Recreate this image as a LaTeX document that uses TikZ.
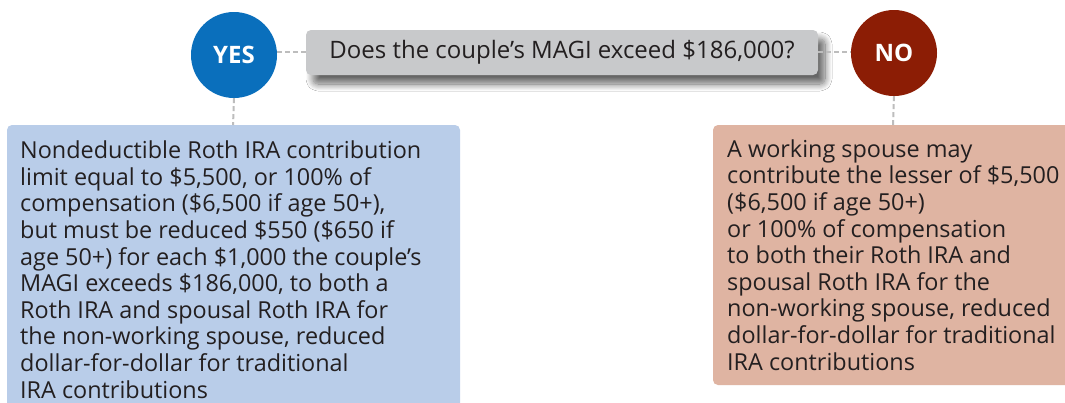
\documentclass[tikz,border=0pt]{standalone}
\usepackage{fontspec}
\setmainfont{Open Sans}
\usetikzlibrary{shadows.blur}
\definecolor{yesblue}{HTML}{0A6FBC}
\definecolor{nored}{HTML}{8C1D05}
\definecolor{boxblue}{HTML}{B9CDE9}
\definecolor{boxpink}{HTML}{DFB4A2}
\definecolor{qgray}{HTML}{C8C9CB}
\definecolor{dashgray}{HTML}{BDBDBD}
\definecolor{txt}{HTML}{231F20}
\tikzset{
  answer/.style={circle, minimum size=86pt, inner sep=0pt, text=white, font=\fontsize{24}{26}\selectfont\bfseries},
  conn/.style={draw=dashgray, line width=2pt, dash pattern=on 5pt off 3pt},
  body/.style={anchor=base west, align=left, inner sep=0pt, text=txt, font=\fontsize{23.4}{26.6}\selectfont},
}
\begin{document}
\begin{tikzpicture}[x=1pt,y=-1pt]
\useasboundingbox (0,0) rectangle (1065,402);
\fill[white] (0,0) rectangle (1065,402);
% boxes
\fill[boxblue, rounded corners=5pt] (7,125) rectangle (460,420);
\fill[boxpink, rounded corners=5pt] (713,125) rectangle (1080,385);
\coordinate (bluetop) at (233,125);
\coordinate (pinktop) at (893,125);
% question
\node[fill=qgray, rounded corners=5pt, minimum width=512pt, minimum height=45pt, inner sep=0pt,
  blur shadow={shadow xshift=7pt, shadow yshift=-9pt, shadow blur steps=12, shadow blur radius=7pt, shadow opacity=60},
  text=txt, font=\fontsize{24}{28}\selectfont] (q) at (562,52.5) {Does the couple’s MAGI exceed \$186,000?};
\node[answer, fill=yesblue] (yes) at (234,55) {YES};
\node[answer, fill=nored] (no) at (894,53) {NO};
\draw[conn] (yes.east |- 0,52) -- (q.west |- 0,52);
\draw[conn] (q.east |- 0,52) -- (no.west |- 0,52);
\draw[conn] (yes.south) -- (bluetop);
\draw[conn] (no.south) -- (pinktop);
% texts (anchor = baseline of last line)
\node[body] (ytext) at (20,398) {Nondeductible Roth IRA contribution\\limit equal to \$5,500, or 100\% of\\compensation (\$6,500 if age 50+),\\but must be reduced \$550 (\$650 if\\age 50+) for each \$1,000 the couple’s\\MAGI exceeds \$186,000, to both a\\Roth IRA and spousal Roth IRA for\\the non-working spouse, reduced\\dollar-for-dollar for traditional\\IRA contributions};
\node[body] (ntext) at (727,370) {A working spouse may\\contribute the lesser of \$5,500\\(\$6,500 if age 50+)\\or 100\% of compensation\\to both their Roth IRA and\\spousal Roth IRA for the\\non-working spouse, reduced\\dollar-for-dollar for traditional\\IRA contributions};
\end{tikzpicture}
\end{document}
